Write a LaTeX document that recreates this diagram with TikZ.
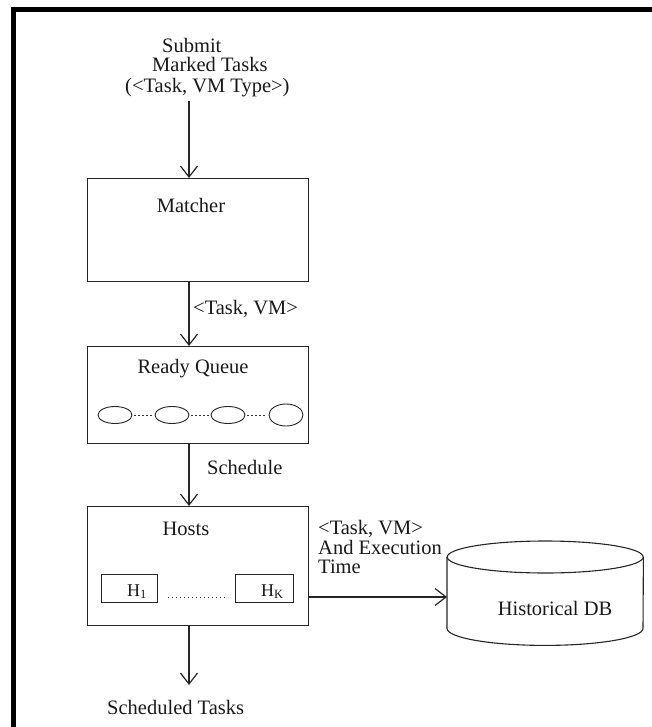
\documentclass[tikz,border=0pt]{standalone}
\usepackage{fontspec}
\setmainfont{Liberation Serif}
\usetikzlibrary{arrows.meta,shapes.geometric}
\begin{document}
\begin{tikzpicture}[x=1pt,y=1pt,
  txt/.style={inner sep=0pt, font=\fontsize{20.5}{24}\selectfont, text=black!90},
  htxt/.style={inner sep=0pt, font=\fontsize{18}{20}\selectfont, text=black!90},
  blk/.style={draw=black!85, line width=1.1pt, rectangle, inner sep=0pt, anchor=north west},
  arr/.style={draw=black!85, line width=1.2pt, -{Straight Barb[length=11pt,width=17pt,line width=1.2pt]}},
  qnode/.style={draw=black!85, line width=0.9pt, ellipse, inner sep=0pt, minimum width=34pt},
  fine dots/.style={draw=black!80, line width=0.9pt, dash pattern=on 1.4pt off 2.6pt},
  cyl/.style={draw=black!85, line width=1.1pt}
]
\useasboundingbox (0,0) rectangle (652,-727);

% frame bars on top and left
\fill[black] (11,-7) rectangle (652,-12);
\fill[black] (11,-7) rectangle (16,-727);

% vertical spine of the pipeline
\coordinate (spine) at (189,0);

% input description
\node[txt, anchor=base west] (sub1) at (162,-53) {Submit};
\node[txt, anchor=base west] (sub2) at (152,-72) {Marked Tasks};
\node[txt, anchor=base west] (sub3) at (125,-93) {(<Task, VM Type>)};

% matcher
\node[blk, minimum width=221pt, minimum height=103pt] (matcher) at (87,-178) {};
\node[txt, anchor=base] (matchertxt) at (191,-213) {Matcher};

% ready queue
\node[blk, minimum width=221pt, minimum height=97pt] (ready) at (87,-346) {};
\node[txt, anchor=base] (readytxt) at (193,-373) {Ready Queue};
\node[qnode, minimum height=17pt] (q1) at (115,-415) {};
\node[qnode, minimum height=17pt] (q2) at (172,-415) {};
\node[qnode, minimum height=17pt] (q3) at (228,-415) {};
\node[qnode, minimum height=22pt] (q4) at (286,-415) {};
\draw[fine dots, shorten <=2pt, shorten >=2pt] (q1.east) -- (q2.west);
\draw[fine dots, shorten <=2pt, shorten >=2pt] (q2.east) -- (q3.west);
\draw[fine dots, shorten <=2pt, shorten >=2pt] (q3.east) -- (q4.west);

% hosts
\node[blk, minimum width=221pt, minimum height=119pt] (hosts) at (87,-506) {};
\node[txt, anchor=base] (hoststxt) at (186,-535) {Hosts};
\node[blk, minimum width=56pt, minimum height=28pt] (h1) at (101,-574) {};
\node[blk, minimum width=58pt, minimum height=28pt] (hk) at (235,-574) {};
\node[htxt, anchor=base east] (h1txt) at (147,-596) {H\textsubscript{1}};
\node[htxt, anchor=base east] (hktxt) at (284,-596) {H\textsubscript{K}};
\draw[fine dots] (168,-597) -- (228,-597);

% historical database cylinder
\node[inner sep=0pt, minimum width=196pt, minimum height=71pt, anchor=north west] (dbbody) at (447,-557) {};
\draw[cyl] (dbbody.north west) -- (dbbody.south west)
  arc[start angle=180, end angle=360, x radius=98pt, y radius=17pt] -- (dbbody.north east);
\draw[cyl] (dbbody.north) ellipse [x radius=98pt, y radius=16pt];
\node[txt, anchor=base] (dbtxt) at (555,-615) {Historical DB};

% connector labels
\node[txt, anchor=base west] (lab0) at (193,-314) {<Task, VM>};
\node[txt, anchor=base west] (labsch) at (207,-474) {Schedule};
\node[txt, anchor=base west] (lab1) at (318,-534) {<Task, VM>};
\node[txt, anchor=base west] (lab2) at (318,-554) {And Execution};
\node[txt, anchor=base west] (lab3) at (318,-573) {Time};
\node[txt, anchor=base west] (out) at (107,-714) {Scheduled Tasks};

% connectors
\coordinate (linky) at (0,-597);
\coordinate (schedend) at (189,-685);
\draw[arr, shorten <=3pt] (sub3.south -| spine) -- (matcher.north -| spine);
\draw[arr] (matcher.south -| spine) -- (ready.north -| spine);
\draw[arr] (ready.south -| spine) -- (hosts.north -| spine);
\draw[arr] (hosts.south -| spine) -- (schedend);
\draw[arr] (hosts.east |- linky) -- (dbbody.west |- linky);
\end{tikzpicture}
\end{document}
